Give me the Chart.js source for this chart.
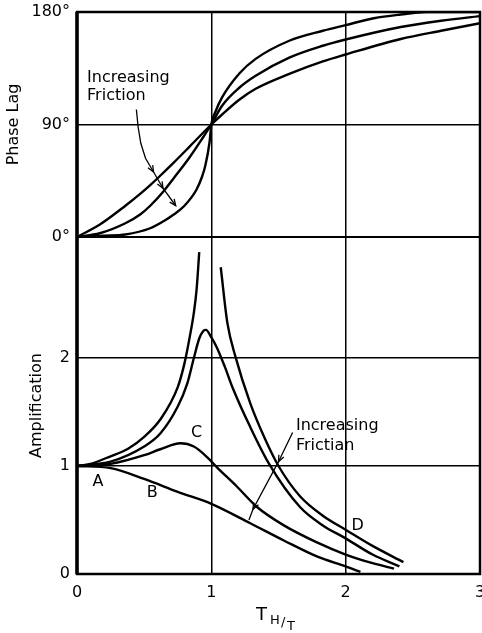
<!DOCTYPE html>
<html>
<head>
<meta charset="utf-8">
<script src="https://cdn.jsdelivr.net/npm/chart.js@4.4.0/dist/chart.umd.min.js"></script>
<style>
  html, body { margin: 0; padding: 0; background: #fff; }
</style>
</head>
<body>
<canvas id="resonance" width="482" height="633"></canvas>
<script>
// phase lag (degrees) for three amounts of friction
let phaseLowX  = [0, 0.2, 0.36, 0.545, 0.65, 0.72, 0.8, 0.89, 0.93, 0.955, 0.987, 1.0, 1.03, 1.08, 1.21, 1.33, 1.58, 1.83, 2.0, 2.21, 2.41, 2.6, 3.0];
let phaseLowY  = [0, 1, 2, 7, 13, 18, 25, 38, 48, 57, 76, 90, 100, 111.7, 131, 142.5, 157, 165, 169.5, 175, 178, 180, 180];
let phaseMidX  = [0, 0.17, 0.36, 0.47, 0.545, 0.64, 0.72, 0.84, 0.94, 1.0, 1.08, 1.21, 1.33, 1.58, 1.83, 2.0, 2.41, 2.71, 3.0];
let phaseMidY  = [0, 3, 11, 18, 25, 36, 47, 64, 80, 90, 105, 119.6, 129, 143.5, 153, 158, 168, 173, 176.7];
let phaseHighX = [0, 0.17, 0.36, 0.47, 0.545, 0.6, 0.72, 0.84, 1.0, 1.08, 1.21, 1.33, 1.58, 1.83, 2.0, 2.41, 2.71, 3.0];
let phaseHighY = [0, 10, 25, 34.5, 41.5, 47, 59.5, 72.5, 90, 98, 110, 118.6, 130.5, 140.5, 146, 158.4, 165, 171];

// amplification curves, null = break at resonance
let ampDX = [0, 0.1, 0.25, 0.38, 0.5, 0.62, 0.75, 0.8, 0.84, 0.87, 0.89, 0.91, 1.0, 1.07, 1.12, 1.18, 1.29, 1.4, 1.5, 1.66, 1.83, 2.0, 2.2, 2.43];
let ampDY = [1, 1.02, 1.09, 1.16, 1.27, 1.43, 1.73, 1.95, 2.2, 2.42, 2.63, 2.98, null, 2.84, 2.32, 2.01, 1.58, 1.25, 1.0, 0.72, 0.54, 0.41, 0.26, 0.11];
let amp2X = [0, 0.25, 0.5, 0.62, 0.75, 0.82, 0.87, 0.91, 0.94, 0.96, 1.0, 1.04, 1.1, 1.16, 1.29, 1.43, 1.66, 1.83, 2.0, 2.2, 2.4];
let amp2Y = [1, 1.04, 1.18, 1.3, 1.55, 1.76, 2.0, 2.18, 2.25, 2.26, 2.19, 2.1, 1.92, 1.72, 1.36, 1.02, 0.62, 0.45, 0.33, 0.18, 0.07];
let ampCX = [0, 0.25, 0.5, 0.62, 0.77, 0.87, 0.97, 1.04, 1.19, 1.34, 1.54, 1.79, 2.0, 2.2, 2.36];
let ampCY = [1, 1.02, 1.1, 1.155, 1.21, 1.18, 1.08, 0.99, 0.81, 0.62, 0.45, 0.29, 0.18, 0.1, 0.05];
let ampBX = [0, 0.25, 0.5, 0.75, 1.0, 1.29, 1.54, 1.79, 2.0, 2.11];
let ampBY = [1, 0.98, 0.88, 0.76, 0.65, 0.47, 0.31, 0.16, 0.07, 0.02];

let xTicks = [0, 1, 2, 3];
let phaseTicks = [0, 90, 180];
let ampTicks = [0, 1, 2];

// letters on the curves, and arrow paths (data coords)
let curveLetters = [['A', 0.157, 0.85], ['B', 0.56, 0.75], ['C', 0.89, 1.31], ['D', 2.09, 0.45]];
let topArrow = [[0.442, 102], [0.455, 88], [0.475, 75], [0.51, 63], [0.57, 52], [0.64, 39], [0.735, 25]];
let bottomArrow = [[1.605, 1.31], [1.5, 1.04], [1.31, 0.6], [1.28, 0.5]];

function pts(xs, ys) {
    return xs.map((x, i) => ({x: x, y: ys[i]}));
}

function curve(xs, ys, axis) {
    return {
        data: pts(xs, ys),
        yAxisID: axis,
        borderColor: '#000',
        borderWidth: 2.4,
        pointRadius: 0,
        fill: false,
        spanGaps: false,
        cubicInterpolationMode: 'monotone'
    };
}

const font = '"DejaVu Sans", sans-serif';
Chart.defaults.font.family = font;
Chart.defaults.color = '#000';

const extras = {
    id: 'extras',
    afterDraw(chart) {
        const ctx = chart.ctx;
        const a = chart.chartArea;
        const sx = chart.scales.x, sp = chart.scales.yP, sa = chart.scales.yA;
        ctx.save();
        ctx.strokeStyle = '#000';
        ctx.fillStyle = '#000';
        // frame
        ctx.lineWidth = 2.5;
        ctx.strokeRect(a.left, a.top, a.right - a.left, a.bottom - a.top);
        ctx.lineWidth = 3.5;
        ctx.beginPath();
        ctx.moveTo(a.left, a.top); ctx.lineTo(a.left, a.bottom);
        ctx.stroke();
        ctx.lineWidth = 2;
        ctx.beginPath();
        ctx.moveTo(a.left, sp.getPixelForValue(0));
        ctx.lineTo(a.right, sp.getPixelForValue(0));
        ctx.stroke();

        // arrows
        function arrow(path, ys, heads) {
            const p = path.map(q => [sx.getPixelForValue(q[0]), ys.getPixelForValue(q[1])]);
            ctx.lineWidth = 1.3;
            ctx.beginPath();
            p.forEach((q, i) => i ? ctx.lineTo(q[0], q[1]) : ctx.moveTo(q[0], q[1]));
            ctx.stroke();
            heads.forEach(i => {
                const ang = Math.atan2(p[i][1] - p[i - 1][1], p[i][0] - p[i - 1][0]);
                ctx.beginPath();
                ctx.moveTo(p[i][0] - 7 * Math.cos(ang - 0.4), p[i][1] - 7 * Math.sin(ang - 0.4));
                ctx.lineTo(p[i][0], p[i][1]);
                ctx.lineTo(p[i][0] - 7 * Math.cos(ang + 0.4), p[i][1] - 7 * Math.sin(ang + 0.4));
                ctx.stroke();
            });
        }
        arrow(topArrow, sp, [4, 5, 6]);
        arrow(bottomArrow, sa, [1, 2]);

        // texts
        ctx.font = '16px ' + font;
        ctx.textBaseline = 'middle';
        ctx.textAlign = 'left';
        ctx.fillText('Increasing', sx.getPixelForValue(0.075), sp.getPixelForValue(127));
        ctx.fillText('Friction', sx.getPixelForValue(0.075), sp.getPixelForValue(113));
        ctx.fillText('Increasing', sx.getPixelForValue(1.63), sa.getPixelForValue(1.37));
        ctx.fillText('Frictian', sx.getPixelForValue(1.63), sa.getPixelForValue(1.19));
        ctx.textAlign = 'center';
        curveLetters.forEach(l => ctx.fillText(l[0], sx.getPixelForValue(l[1]), sa.getPixelForValue(l[2])));

        // x title T H/T
        ctx.textAlign = 'left';
        ctx.textBaseline = 'alphabetic';
        ctx.font = '18px ' + font;
        ctx.fillText('T', 256, 620);
        ctx.font = '13px ' + font;
        ctx.fillText('H', 270, 624);
        ctx.fillText('/', 281, 626);
        ctx.fillText('T', 287, 630);
        ctx.restore();
    }
};

new Chart(document.getElementById('resonance'), {
    type: 'line',
    data: {
        datasets: [
            curve(phaseLowX, phaseLowY, 'yP'),
            curve(phaseMidX, phaseMidY, 'yP'),
            curve(phaseHighX, phaseHighY, 'yP'),
            curve(ampDX, ampDY, 'yA'),
            curve(amp2X, amp2Y, 'yA'),
            curve(ampCX, ampCY, 'yA'),
            curve(ampBX, ampBY, 'yA')
        ]
    },
    options: {
        responsive: false,
        animation: false,
        layout: {padding: {top: 12, right: 2, bottom: 0, left: 0}},
        plugins: {legend: {display: false}, tooltip: {enabled: false}},
        scales: {
            x: {
                type: 'linear',
                min: 0, max: 3,
                afterBuildTicks: s => { s.ticks = xTicks.map(v => ({value: v})); },
                afterFit: s => { s.height = 59; s.paddingLeft = 0; s.paddingRight = 0; },
                grid: {color: '#000', lineWidth: 1.5, drawTicks: false},
                border: {display: false},
                ticks: {padding: 9, font: {size: 16}}
            },
            yA: {
                type: 'linear',
                position: 'left',
                stack: 'panels',
                stackWeight: 337,
                min: 0, max: 3.12,
                afterBuildTicks: s => { s.ticks = ampTicks.map(v => ({value: v})); },
                afterFit: s => { s.width = 77; s.paddingTop = 0; s.paddingBottom = 0; },
                grid: {color: '#000', lineWidth: 1.5, drawTicks: false},
                border: {display: false},
                ticks: {padding: 7, font: {size: 16}},
                title: {display: true, text: 'Amplification', font: {size: 16}, padding: {top: 27, bottom: 0}}
            },
            yP: {
                type: 'linear',
                position: 'left',
                stack: 'panels',
                stackWeight: 225,
                min: 0, max: 180,
                afterBuildTicks: s => { s.ticks = phaseTicks.map(v => ({value: v})); },
                afterFit: s => { s.width = 77; s.paddingTop = 0; s.paddingBottom = 0; },
                grid: {color: '#000', lineWidth: 1.5, drawTicks: false},
                border: {display: false},
                ticks: {padding: 7, font: {size: 16}, callback: v => v + '°'},
                title: {display: true, text: 'Phase Lag', font: {size: 16}, padding: {top: 4, bottom: 0}}
            }
        }
    },
    plugins: [extras]
});
</script>
</body>
</html>
